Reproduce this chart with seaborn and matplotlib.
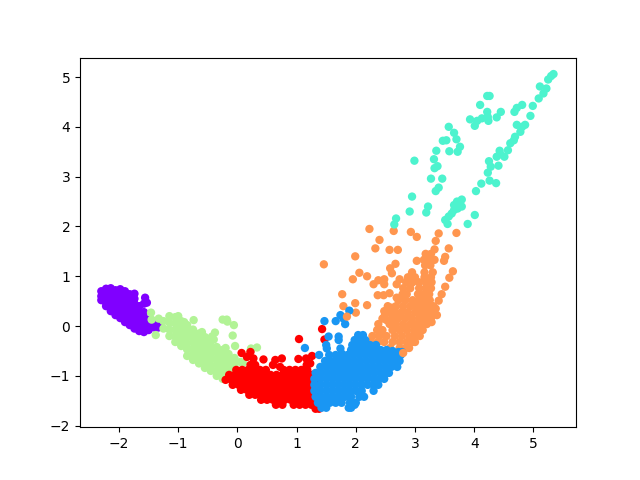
import pandas as pd
import seaborn as sns
import matplotlib.pyplot as plt

# points, (x, y)
purple = [(-2.30,.70),(-2.30,.60),(-2.30,.52),(-2.22,.75),(-2.22,.65),(-2.22,.55),(-2.22,.47),(-2.22,.40),
    (-2.14,.76),(-2.14,.66),(-2.14,.56),(-2.14,.46),(-2.14,.38),(-2.14,.30),
    (-2.06,.72),(-2.06,.62),(-2.06,.52),(-2.06,.42),(-2.06,.32),(-2.06,.22),
    (-1.98,.74),(-1.98,.67),(-1.98,.57),(-1.98,.47),(-1.98,.37),(-1.98,.27),(-1.98,.16),
    (-1.90,.70),(-1.90,.62),(-1.90,.52),(-1.90,.42),(-1.90,.32),(-1.90,.22),(-1.90,.08),
    (-1.82,.64),(-1.82,.54),(-1.82,.44),(-1.82,.34),(-1.82,.24),(-1.82,.14),(-1.82,.02),
    (-1.74,.65),(-1.74,.55),(-1.74,.45),(-1.74,.35),(-1.74,.25),(-1.74,.15),(-1.74,.05),(-1.74,-.05),
    (-1.66,.40),(-1.66,.30),(-1.66,.20),(-1.66,.10),(-1.66,0),(-1.66,-.10),
    (-1.58,.28),(-1.58,.18),(-1.58,.08),(-1.58,-.02),(-1.58,-.12),
    (-1.50,.12),(-1.50,.02),(-1.50,-.08),(-1.40,.05),(-1.40,-.03),(-1.34,0),(-1.34,-.03),
    (-1.56,.57),(-1.53,.47),(-1.58,.45)]

lime = [(-1.46,.27),(-1.45,.13),(-1.33,.15),(-1.38,-.18),(-.74,.12),(-.25,.13),(-.18,.13),(-.17,.09),
    (-.06,.02),(-.38,-.13),(-.43,-.21),(-.08,-.19),(-.04,-.40),(.23,-.45),(.33,-.43),(.22,-.50),(.09,-.74),
    (-1.0,.20),(-.9,.08),(-.6,-.12),(-.4,-.27),(-.2,-.44),
    (-1.25,.10),(-1.25,-.05),(-1.15,.20),(-1.15,.07),(-1.15,-.07),(-1.15,-.2),
    (-1.05,.18),(-1.05,.05),(-1.05,-.08),(-1.05,-.2),(-1.05,-.32),
    (-.95,.10),(-.95,-.03),(-.95,-.15),(-.95,-.28),(-.95,-.40),
    (-.85,.02),(-.85,-.1),(-.85,-.22),(-.85,-.35),(-.85,-.47),(-.85,-.60),
    (-.75,-.07),(-.75,-.2),(-.75,-.32),(-.75,-.45),(-.75,-.57),(-.75,-.68),
    (-.65,-.15),(-.65,-.28),(-.65,-.4),(-.65,-.52),(-.65,-.64),(-.65,-.75),
    (-.55,-.22),(-.55,-.35),(-.55,-.47),(-.55,-.6),(-.55,-.72),(-.55,-.84),
    (-.45,-.3),(-.45,-.42),(-.45,-.55),(-.45,-.67),(-.45,-.8),(-.45,-.9),
    (-.35,-.42),(-.35,-.52),(-.35,-.65),(-.35,-.77),(-.35,-.9),(-.35,-1.0),
    (-.25,-.48),(-.25,-.6),(-.25,-.72),(-.25,-.85),(-.25,-.97),(-.25,-1.06),
    (-.15,-.56),(-.15,-.68),(-.15,-.8),(-.15,-.92),(-.15,-1.05),
    (-.05,-.64),(-.05,-.76),(-.05,-.88),(-.05,-1.0),(.05,-.72)]

orange = [(2.23,1.95),(2.64,1.91),(2.93,1.89),(3.03,1.79),(3.40,1.86),(3.70,1.87),(2.40,1.73),(3.35,1.71),
    (2.33,1.56),(2.57,1.53),(2.71,1.53),(3.33,1.54),(3.57,1.56),(1.99,1.40),(1.46,1.24),(3.03,1.31),
    (2.67,1.25),(3.51,1.39),(3.49,1.31),(2.58,1.16),(2.61,1.06),(2.06,1.07),(2.19,1.0),(1.95,.94),
    (3.64,1.10),(3.58,.97),(3.51,.79),(3.45,.64),(3.40,.51),(1.77,.64),(1.79,.40),(1.99,.46),(2.0,.27),(2.19,.42),
    (2.30,.84),(2.38,.92),(2.48,.94),(2.48,.84),(2.74,.94),(2.69,.84),(2.37,.62),(2.47,.62),(2.57,.66),(2.69,.57),
    (2.54,.40),(2.61,.37),(2.49,.21),(2.48,.30),(2.56,.28),(2.45,.15),(2.52,.12),(3.35,.35),(3.37,.22),(3.28,.08),
    (3.18,1.45),(3.27,1.45),(3.15,1.33),(3.25,1.33),(3.33,1.33),(3.17,1.22),(3.26,1.22),
    (2.95,1.08),(3.16,1.08),(3.30,1.08),(2.88,.98),(3.0,.98),(3.16,.98),(3.27,.98),
    (2.85,.88),(2.96,.88),(3.07,.88),(3.18,.88),(3.28,.88),
    (2.80,.76),(2.92,.76),(3.07,.76),(3.18,.76),(3.27,.76),
    (2.79,.64),(2.86,.64),(3.05,.64),(3.15,.64),(3.24,.64),
    (2.72,.52),(2.84,.52),(2.96,.52),(3.07,.52),(3.17,.52),(3.25,.52),
    (2.68,.40),(2.8,.40),(2.92,.40),(3.02,.40),(3.12,.40),(3.22,.40),(3.31,.40),
    (2.66,.28),(2.77,.28),(2.88,.28),(3.0,.28),(3.10,.28),(3.2,.28),(3.3,.28),
    (2.62,.16),(2.72,.16),(2.84,.16),(2.95,.16),(3.07,.16),(3.17,.16),(3.27,.16),
    (2.38,.04),(2.57,.04),(2.68,.04),(2.8,.04),(2.92,.04),(3.02,.04),(3.12,.04),(3.2,.04),
    (2.36,-.08),(2.45,-.08),(2.62,-.08),(2.74,-.08),(2.86,-.08),(2.98,-.08),(3.06,-.08),(3.13,-.08),
    (2.28,-.2),(2.40,-.2),(2.52,-.2),(2.66,-.2),(2.78,-.2),(2.90,-.2),(3.0,-.2),(3.08,-.2),
    (2.26,-.32),(2.37,-.32),(2.48,-.32),(2.62,-.32),(2.74,-.32),(2.86,-.32),(2.96,-.32),(3.0,-.32),
    (2.58,-.44),(2.74,-.44),(2.84,-.44),(2.9,-.44)]

red = [(1.04,-.26),(1.43,-.06),(1.47,-.27),(.44,-.67),(.64,-.68),(.75,-.65),(1.03,-.66),(1.16,-.65),(1.26,-.60),
    (.22,-.52),(.27,-.65),(.07,-.54),(.16,-.62),(.72,-.82),(1.17,-.78),(1.23,-.75),(.22,-.78),(.30,-.78),(.60,-.78),
    (-.02,-.88),(.08,-.88),(.18,-.88),(.28,-.88),(.38,-.88),(.48,-.88),(.78,-.88),(.88,-.88),(.98,-.88),(1.08,-.88),(1.18,-.88),
    (-.14,-.98),(-.04,-.98),(.06,-.98),(.16,-.98),(.26,-.98),(.36,-.98),(.46,-.98),(.56,-.98),(.66,-.98),(.76,-.98),(.86,-.98),(.96,-.98),(1.06,-.98),(1.16,-.98),(1.26,-.98),
    (-.20,-1.08),(-.10,-1.08),(0,-1.08),(.1,-1.08),(.2,-1.08),(.3,-1.08),(.4,-1.08),(.5,-1.08),(.6,-1.08),(.7,-1.08),(.8,-1.08),(.9,-1.08),(1.0,-1.08),(1.1,-1.08),(1.2,-1.08),(1.3,-1.08),
    (-.08,-1.18),(.02,-1.18),(.12,-1.18),(.22,-1.18),(.32,-1.18),(.42,-1.18),(.52,-1.18),(.62,-1.18),(.72,-1.18),(.82,-1.18),(.92,-1.18),(1.02,-1.18),(1.12,-1.18),(1.22,-1.18),(1.3,-1.18),
    (.06,-1.28),(.16,-1.28),(.26,-1.28),(.36,-1.28),(.46,-1.28),(.56,-1.28),(.66,-1.28),(.76,-1.28),(.86,-1.28),(.96,-1.28),(1.06,-1.28),(1.16,-1.28),(1.26,-1.28),
    (.20,-1.38),(.30,-1.38),(.40,-1.38),(.50,-1.38),(.60,-1.38),(.70,-1.38),(.80,-1.38),(.90,-1.38),(1.0,-1.38),(1.1,-1.38),(1.2,-1.38),(1.3,-1.38),
    (.40,-1.48),(.50,-1.48),(.60,-1.48),(.70,-1.48),(.80,-1.48),(.90,-1.48),(1.0,-1.48),(1.1,-1.48),(1.2,-1.48),(1.3,-1.48),
    (.65,-1.58),(.76,-1.58),(.95,-1.58),(1.05,-1.58),(1.15,-1.58),(1.25,-1.58),(1.32,-1.66),(1.38,-1.66)]

blue = [(1.74,.22),(1.79,.15),(1.89,.31),(1.66,.10),(1.82,.04),(1.47,.10),(1.54,-.21),(1.71,-.21),(1.71,-.28),
    (1.50,-.38),(1.51,-.45),(1.14,-.44),(1.38,-.58),(1.74,-.45),(1.76,-.55),
    (2.04,-.18),(2.12,-.18),(1.98,-.28),(2.06,-.28),(2.16,-.28),
    (1.94,-.38),(2.04,-.38),(2.14,-.38),(2.24,-.38),(2.34,-.38),
    (1.92,-.48),(2.02,-.48),(2.12,-.48),(2.22,-.48),(2.32,-.48),(2.42,-.48),(2.52,-.48),(2.62,-.50),(2.72,-.52),(2.78,-.52),
    (1.55,-.58),(1.66,-.58),(1.76,-.58),(1.86,-.58),(1.96,-.58),(2.06,-.58),(2.16,-.58),(2.26,-.58),(2.36,-.58),(2.46,-.58),(2.56,-.58),(2.66,-.58),(2.76,-.58),
    (1.48,-.70),(1.58,-.70),(1.68,-.70),(1.78,-.70),(1.88,-.70),(1.98,-.70),(2.08,-.70),(2.18,-.70),(2.28,-.70),(2.38,-.70),(2.48,-.70),(2.58,-.70),(2.68,-.70),(2.74,-.70),
    (1.40,-.82),(1.50,-.82),(1.60,-.82),(1.70,-.82),(1.80,-.82),(1.90,-.82),(2.00,-.82),(2.10,-.82),(2.20,-.82),(2.30,-.82),(2.40,-.82),(2.50,-.82),(2.60,-.82),(2.70,-.82),
    (1.32,-.94),(1.42,-.94),(1.52,-.94),(1.62,-.94),(1.72,-.94),(1.82,-.94),(1.92,-.94),(2.02,-.94),(2.12,-.94),(2.22,-.94),(2.32,-.94),(2.42,-.94),(2.52,-.94),(2.56,-.94),
    (1.30,-1.06),(1.40,-1.06),(1.50,-1.06),(1.60,-1.06),(1.70,-1.06),(1.80,-1.06),(1.90,-1.06),(2.00,-1.06),(2.10,-1.06),(2.20,-1.06),(2.30,-1.06),(2.40,-1.06),(2.48,-1.06),
    (1.30,-1.18),(1.40,-1.18),(1.50,-1.18),(1.60,-1.18),(1.70,-1.18),(1.80,-1.18),(1.90,-1.18),(2.00,-1.18),(2.10,-1.18),(2.20,-1.18),(2.30,-1.18),(2.38,-1.18),
    (1.30,-1.30),(1.40,-1.30),(1.50,-1.30),(1.60,-1.30),(1.70,-1.30),(1.80,-1.30),(1.90,-1.30),(2.00,-1.30),(2.10,-1.30),(2.30,-1.30),
    (1.32,-1.42),(1.42,-1.42),(1.52,-1.42),(1.62,-1.42),(1.72,-1.42),(1.82,-1.42),(1.92,-1.42),(2.06,-1.42),(2.14,-1.42),
    (1.36,-1.54),(1.46,-1.54),(1.56,-1.54),(1.66,-1.54),(1.76,-1.54),(1.90,-1.54),(2.0,-1.54),
    (1.42,-1.64),(1.5,-1.64),(1.88,-1.64),(1.92,-1.64),(1.98,-1.58)]

turquoise = [(5.34,5.06),(5.30,5.02),(5.25,4.95),(5.11,4.81),(5.22,4.77),(5.17,4.67),(5.09,4.57),(4.22,4.62),(4.26,4.62),
    (4.10,4.44),(4.81,4.44),(4.72,4.38),(4.68,4.30),(4.99,4.42),(4.95,4.22),(4.45,4.30),(4.38,4.19),(3.93,4.15),
    (4.22,4.30),(4.23,4.20),(4.24,4.12),(4.13,4.17),(4.05,4.12),(4.01,4.02),(3.57,4.00),(3.66,3.88),(3.70,3.75),
    (3.53,3.73),(3.47,3.72),(3.76,3.60),(3.72,3.50),(3.58,3.51),(3.36,3.52),(3.32,3.35),(2.99,3.32),(3.38,3.21),
    (3.33,3.17),(3.27,2.96),(3.46,2.96),(3.40,2.78),(3.35,2.71),(2.95,2.60),(2.91,2.30),(3.22,2.40),(3.19,2.28),
    (2.68,2.16),(2.65,2.04),(4.86,4.04),(4.72,4.04),(4.78,3.90),(4.81,4.0),(4.69,3.80),(4.67,3.73),(4.61,3.67),
    (4.57,3.53),(4.43,3.52),(4.51,3.40),(4.38,3.40),(4.44,3.45),(4.25,3.31),(4.41,3.22),(4.28,3.20),(4.23,3.08),
    (4.26,2.92),(4.37,2.87),(4.12,2.86),(4.03,2.71),(3.79,2.54),(3.71,2.50),(3.66,2.43),(3.79,2.40),(3.72,2.36),
    (3.66,2.33),(3.62,2.26),(3.57,2.20),(3.51,2.13),(3.55,2.05),(4.01,2.23),(3.89,2.05)]

# the few orange ones that sit on top of the blue
orange_top = [(1.85,.19),(2.80,-.54)]

cluster_colors = {"purple": "#8000ff", "lime": "#b2f396", "orange": "#ff964f",
                  "red": "#ff0000", "blue": "#1996f3", "turquoise": "#4df3ce"}


def build_frame():
    groups = [("purple", purple), ("lime", lime), ("orange", orange), ("red", red),
              ("blue", blue), ("turquoise", turquoise), ("orange", orange_top)]
    rows = [(x, y, name) for name, pts in groups for x, y in pts]
    return pd.DataFrame(rows, columns=["x", "y", "cluster"])


df = build_frame()
fig, ax = plt.subplots(figsize=(6.4, 4.8), dpi=100)
sns.scatterplot(data=df, x="x", y="y", hue="cluster", palette=cluster_colors,
                s=36, linewidth=0, legend=False, ax=ax)
ax.set_xlabel("")
ax.set_ylabel("")
ax.set_xlim(-2.66, 5.72)
ax.set_ylim(-2.03, 5.39)
plt.savefig("out.png", dpi=100)
plt.close()
